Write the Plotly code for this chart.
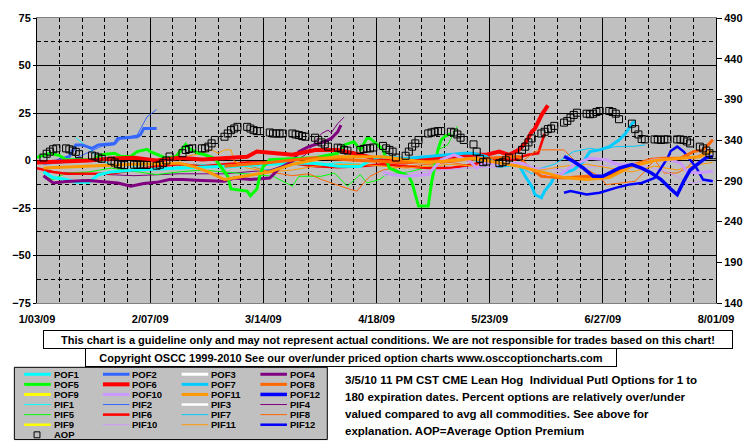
import plotly.graph_objects as go

YEAR = "2009-"

# ---------------- data (left axis: % over/under; right axis: AOP) ----------------
AOP_dates = [
    "01-05", "01-06", "01-07", "01-08", "01-09",
    "01-12", "01-13", "01-14", "01-15", "01-16",
    "01-20", "01-21", "01-22", "01-23",
    "01-26", "01-27", "01-28", "01-29", "01-30",
    "02-02", "02-03", "02-04", "02-05", "02-06",
    "02-09", "02-10", "02-11", "02-12", "02-13",
    "02-17", "02-18", "02-19", "02-20",
    "02-23", "02-24", "02-25", "02-26", "02-27",
    "03-02", "03-03", "03-04", "03-05", "03-06",
    "03-09", "03-10", "03-11", "03-12", "03-13",
    "03-16", "03-17", "03-18", "03-19", "03-20",
    "03-23", "03-24", "03-25", "03-26", "03-27",
    "03-30", "03-31", "04-01", "04-02", "04-03",
    "04-06", "04-07", "04-08", "04-09",
    "04-13", "04-14", "04-15", "04-16", "04-17",
    "04-20", "04-21", "04-22", "04-23", "04-24",
    "04-27", "04-28", "04-29", "04-30", "05-01",
    "05-04", "05-05", "05-06", "05-07", "05-08",
    "05-11", "05-12", "05-13", "05-14", "05-15",
    "05-18", "05-19", "05-20", "05-21", "05-22",
    "05-26", "05-27", "05-28", "05-29",
    "06-01", "06-02", "06-03", "06-04", "06-05",
    "06-08", "06-09", "06-10", "06-11", "06-12",
    "06-15", "06-16", "06-17", "06-18", "06-19",
    "06-22", "06-23", "06-24", "06-25", "06-26",
    "06-29", "06-30", "07-01", "07-02",
    "07-06", "07-07", "07-08", "07-09", "07-10",
    "07-13", "07-14", "07-15", "07-16", "07-17",
    "07-20", "07-21", "07-22", "07-23", "07-24",
    "07-27", "07-28", "07-29", "07-30", "07-31",
]
AOP_values = [
    318.6, 323.3, 325.9, 328.8, 329.9,
    329.9, 328.7, 327.2, 325.6, 322.7,
    321.1, 320.0, 318.6, 317.1,
    314.6, 312.6, 310.5, 309.8, 309.3,
    309.8, 309.8, 309.8, 309.8, 309.5,
    308.6, 309.8, 311.7, 315.0, 319.9,
    323.9, 328.0, 329.2, 329.9,
    329.9, 329.9, 332.0, 336.0, 340.2,
    344.2, 348.2, 352.3, 354.3, 356.3,
    356.3, 354.3, 352.3, 351.1, 351.1,
    349.4, 348.2, 348.2, 348.2, 348.2,
    348.2, 347.0, 346.2, 345.0, 344.2,
    343.0, 340.2, 337.2, 334.8, 332.0,
    330.8, 329.9, 328.0, 327.2,
    328.0, 329.2, 329.9, 329.9, 331.0,
    332.9, 329.9, 328.0, 325.9, 318.6,
    320.8, 325.9, 332.0, 336.0, 340.2,
    348.2, 349.4, 350.3, 351.1, 351.1,
    350.3, 349.4, 347.0, 343.0, 340.2,
    334.8, 325.9, 317.1, 312.9, 313.8,
    311.7, 312.9, 315.2, 318.6,
    319.9, 328.0, 332.0, 337.2, 342.1,
    348.2, 350.3, 353.5, 354.3, 357.5,
    361.5, 363.6, 367.6, 371.0, 373.7,
    372.5, 371.8, 372.5, 374.5, 375.8,
    375.8, 374.5, 372.5, 365.7,
    360.3, 353.5, 347.0, 341.4, 340.9,
    340.9, 340.9, 340.2, 340.9, 340.9,
    340.9, 340.9, 340.2, 338.4, 336.0,
    332.0, 329.9, 327.2, 323.9, 321.5,
]

POF1_d = ["01-05", "01-08", "01-12", "01-15", "01-19", "01-22", "01-26", "02-02", "02-09", "02-16",
          "02-23", "03-02", "03-09", "03-16", "03-23", "03-30", "04-06", "04-13", "04-17"]
POF1_v = [-6, -9, -10, -11.5, -11.5, -7.5, -6, -5, -4.5, -4, -3.5, -3, -2.5, -2, -1.5, -1.5, -3, -3.1, 1.2]
PIF1_d = ["01-15", "01-17", "01-20", "01-22", "01-26", "02-02", "02-09", "02-16", "02-23", "03-02",
          "03-09", "03-16", "03-23", "03-30", "04-06", "04-13"]
PIF1_v = [12, 9, 5, 0.4, -2, -3, -1, -3, -2, -4, -3, -5, -2, -3, -1, -2]

POF2_d = ["01-05", "01-09", "01-13", "01-15", "01-17", "01-20", "01-22", "01-27", "01-28", "02-03",
          "02-04", "02-05", "02-09"]
POF2_v = [-1, -0.2, 2.1, 8.2, 8.2, 6.4, 8.2, 9.0, 11.6, 12.5, 13.7, 16.8, 16.8]
PIF2_d = ["01-05", "01-12", "01-16", "01-20", "01-23", "01-27", "01-29", "02-03", "02-05", "02-06", "02-09"]
PIF2_v = [-2, -1, 2, 5, 7.5, 8.2, 11.6, 13.4, 20.3, 22.9, 26.9]

POF3_d, POF3_v = [], []
PIF3_d, PIF3_v = [], []

POF4_d = ["01-05", "01-08", "01-12", "01-19", "01-28", "02-01", "02-05", "02-09", "02-13", "02-17",
          "02-23", "03-02", "03-05", "03-10", "03-16", "03-19", "03-23", "03-25", "03-28", "03-30",
          "04-02", "04-04", "04-06", "04-07"]
POF4_v = [-8, -11.8, -11, -10.5, -11.8, -13.5, -12.1, -11.5, -10, -10, -10.5, -10.9, -9.2, -10,
          -9.2, -4, -0.5, 4.7, 7.3, 8.2, 9.9, 11.6, 15.1, 18.6]
PIF4_d = ["01-05", "01-19", "02-02", "02-16", "03-02", "03-16", "03-23", "03-27", "04-01", "04-03",
          "04-04", "04-06", "04-08"]
PIF4_v = [-6, -7, -8, -7, -7, -5, -1, 3, 14.2, 16, 14.6, 19.4, 22.9]

POF5_d = ["01-03", "01-07", "01-10", "01-12", "01-20", "01-23", "01-27", "01-29", "02-01", "02-03",
          "02-06", "02-07", "02-12", "02-15", "02-18", "02-19", "02-22", "02-24", "02-27", "03-03",
          "03-04", "03-09", "03-10", "03-12", "03-13", "03-14", "03-16", "03-23", "03-30", "04-06",
          "04-08", "04-11", "04-13", "04-15", "04-16", "04-19", "04-20", "04-22", "04-27", "04-28",
          "04-29", "04-30", "05-01", "05-04", "05-05", "05-06", "05-07", "05-08", "05-09", "05-11"]
POF5_v = [1.7, 3.8, 2.6, 0.4, 0.4, 3.0, 3.8, 2.1, 2.1, 4.7,
          5.9, 4.7, 1.2, 2.1, 8.5, 6.4, 3.8, 3.0, 1.0, -8.3,
          -15, -16.1, -18.6, -15, -7.4, -3.1, 0.4, 1.0, 1.5, 3.8,
          8.2, 9.9, 5.6, 11.6, 11.6, 7.3, 5.6, -4, -7.4, -8.3,
          -11.8, -18.7, -24, -24, -11.8, -3.1, 5.6, 10.8, 12.5, 14.2]
PIF5_d = ["01-05", "01-08", "01-12", "01-19", "01-26", "02-02", "02-09", "02-16", "02-23", "03-02",
          "03-09", "03-17", "03-23", "03-25", "04-01", "04-05", "04-09", "04-13", "04-15", "04-19",
          "04-21", "04-28", "05-05", "05-07", "05-10", "05-13"]
PIF5_v = [-8.3, -10, -6.6, -6, -4, -5.7, -7.4, -6, -5, -6,
          -7, -8.3, -13.5, -8.3, -8.3, -6.6, -13.5, -7.4, -11.8, -10,
          -7.4, -6, -3, 5.6, 8.2, 18]

POF6_d = ["01-03", "01-12", "01-19", "01-26", "02-02", "02-09", "02-16", "02-23", "03-02", "03-09",
          "03-12", "03-16", "03-23", "03-30", "04-06", "04-13", "04-20", "04-27", "05-04", "05-11",
          "05-18", "05-22", "05-26", "05-29", "06-01", "06-03", "06-05", "06-06", "06-08", "06-10"]
POF6_v = [-1, -0.5, 0, 1, 1.5, 0, 1.5, 0.5, 1, 2,
          4.7, 4, 3, 5.5, 5.5, 3, 0, -1, 1, 2,
          3, 3, 4.7, 3, 5.6, 9, 15.1, 16.8, 23.8, 29]
PIF6_d = ["01-03", "01-08", "01-12", "01-19", "01-26", "02-02", "02-09", "02-16", "02-23", "03-02",
          "03-09", "03-16", "03-23", "03-30", "04-06", "04-13", "04-20", "04-27", "05-04", "05-11",
          "05-18", "05-25", "05-31", "06-02", "06-04", "06-07", "06-08", "06-09"]
PIF6_v = [-4, -6, -7, -6.8, -6.8, -5, -3, -2, -3, -2,
          -1, -1, -1.5, -3, -3.5, -3, -2, -3, -4, -4,
          -2, 1, 0.4, 2.1, 3, 3.8, 9, 14.2]

POF7_d = ["04-17", "04-20", "04-27", "05-04", "05-11", "05-15", "05-18", "05-22", "05-26", "06-01",
          "06-03", "06-05", "06-06", "06-08", "06-09", "06-11", "06-12", "06-15", "06-18", "06-21",
          "06-23", "06-26", "06-29", "07-02", "07-04", "07-06", "07-07"]
POF7_v = [1.2, 2, 1, 2, 3.3, 3.8, 3.8, 2, -3, -2.2,
          -8.3, -13.5, -17.9, -19.6, -16.1, -11.8, -8.3, -6.6, -4.8, -0.5,
          4.7, 5.6, 7.3, 10.8, 14.2, 19.4, 20.8]
PIF7_d = ["05-18", "05-25", "06-01", "06-05", "06-08", "06-12", "06-18", "06-23", "06-26", "07-01",
          "07-07", "07-10"]
PIF7_v = [0, -2, -3, -7, -4, -2, 4.7, 6.4, 5.6, 7.3, 7.5, 8.2]

POF8_d = ["03-02", "03-16", "03-30", "04-13", "04-27", "05-11", "05-22", "06-01", "06-03", "06-08",
          "06-15", "06-22", "06-26", "06-29", "07-03", "07-08", "07-12", "07-16", "07-21", "07-25",
          "07-28", "07-30", "07-31"]
POF8_v = [-3, -1, 1.5, 0, -1, 0, 1.2, 2.1, -2, -8.3,
          -9.2, -8.3, -9.2, -8.3, -4, -1.4, 0.7, 1.2, 1.2, 4.7,
          5.6, 9, 11]
PIF8_d = ["03-05", "03-10", "03-16", "03-23", "03-28", "04-01", "04-04", "04-07", "04-10", "04-12",
          "04-14", "04-16", "04-20", "04-27", "05-04", "05-11", "05-18", "05-25", "06-01", "06-06",
          "06-08", "06-15", "06-18", "06-21", "06-26", "06-28", "07-03", "07-07", "07-10", "07-13",
          "07-16", "07-20", "07-23", "07-26", "07-30"]
PIF8_v = [-0.5, -3, -6, -8, -7, -10, -11.8, -13.5, -15.3, -16.1,
          -11.8, -8.3, -5, -3, -2, -1, -3, -1, -2, 4.7,
          5.6, 5.6, 0.4, -4, -8.3, -12.7, -11.8, -10.9, -5.7, 0.4,
          -6.6, -6.6, -4, 2.1, 5.6]

POF9_d, POF9_v = [], []
PIF9_d, PIF9_v = [], []

POF10_d = ["04-20", "04-23", "04-27", "05-04", "05-08", "05-12", "05-17", "05-19", "05-21", "05-27",
           "06-02", "06-10", "06-14", "06-18", "06-23", "06-28", "07-02", "07-08", "07-13", "07-18",
           "07-21", "07-23", "07-26", "07-31"]
POF10_v = [-6, -7.4, -8.3, -7.4, 0.4, 3, -0.5, -4, -1.4, -2,
           -1.4, -7.4, -7.4, -2.2, 1.2, 0.4, -2.2, -2.2, 0.4, 0.4,
           -1.4, -5.7, -6.6, -5.7]
PIF10_d = ["04-20", "05-01", "05-15", "06-01", "06-15", "07-01", "07-10", "07-17", "07-24", "07-31"]
PIF10_v = [-8, -6, -4, -3, -5, -2, -3, -6, -12, -10]

POF11_d = ["01-05", "01-19", "02-02", "02-16", "02-20", "02-25", "03-02", "03-09", "03-16", "03-23",
           "04-01", "04-06", "04-20", "05-04", "05-18", "06-01", "06-08", "06-15", "06-22", "06-29",
           "07-06", "07-13", "07-20", "07-27", "07-31"]
POF11_v = [-4, -3, -2, -1.4, -3, -6, -10, -8, -6, -2,
           1, 2, 2, -1, 1, -3, -6, -9, -10, -9,
           -3, 0, 1, 2, 5]
PIF11_d = ["02-16", "02-19", "02-22", "02-26", "02-28", "03-02", "03-04", "03-05", "03-09", "03-16",
           "03-23", "03-30", "04-06", "04-13", "04-20", "04-27", "05-04", "05-11", "05-18", "05-25",
           "06-01", "06-08", "06-15", "06-22", "06-29", "07-06", "07-13", "07-20", "07-27", "07-31"]
PIF11_v = [0, 2.5, 3.5, 5.6, 3.8, 5.6, 5.6, -0.5, -4, -6,
           -5, -3, -2, -2, -3, -4, -3, -2, -3, -1,
           -3, -5, -3, -2, -4, -6, -3, -5, -2, -1]

POF12_d = ["06-15", "06-18", "06-21", "06-24", "06-27", "06-29", "07-02", "07-06", "07-09", "07-12",
           "07-15", "07-18", "07-20", "07-22", "07-24", "07-27", "07-29", "07-31"]
POF12_v = [2.1, -0.5, -4, -8.3, -8.3, -6.6, -4, -2.2, -4, -6.6,
           -10, -15, -18, -11, -5, -1, 1.5, 2]
PIF12_d = ["06-15", "06-17", "06-22", "06-26", "07-01", "07-05", "07-09", "07-13", "07-15", "07-17",
           "07-18", "07-20", "07-22", "07-24", "07-26", "07-28", "07-31"]
PIF12_v = [-17, -16.1, -17.9, -17, -14.4, -12.7, -11.8, -9.2, -4, 1.2,
           5, 7.3, 4.7, 0.4, -4, -10, -10.9]

X_RANGE = ["2009-01-03", "2009-08-01"]
Y_RANGE = [-75, 75]
Y2_RANGE = [140, 490]

DISCLAIMER = "This chart is a guideline only and may not represent actual conditions. We are not responsible for trades based on this chart!"
COPYRIGHT = "Copyright OSCC 1999-2010 See our over/under priced option charts www.osccoptioncharts.com"
NOTE_LINES = [
    "3/5/10 11 PM CST CME Lean Hog  Individual Putl Options for 1 to",
    "180 expiration dates. Percent options are relatively over/under",
    "valued compared to avg all commodities. See above for",
    "explanation. AOP=Average Option Premium",
]

# ---------------- styles ----------------
COLORS = ["#00FFFF", "#3366FF", "#FFFFFF", "#800080", "#00FF00", "#FF0000",
          "#00CCFF", "#FF6600", "#FFFF00", "#CC99FF", "#FF9900", "#0000FF"]
FONT = "Liberation Sans, Arial, sans-serif"

W, H = 755, 446
ML, MR, MT, MB = 31, 34, 15, 143
PW, PH = W - ML - MR, H - MT - MB


def fx(px):
    return (px - ML) / PW


def fy(py):
    return (H - MB - py) / PH


g = globals()
series = []
for kind in ("POF", "PIF"):
    for i in range(1, 13):
        name = f"{kind}{i}"
        d = [YEAR + s for s in g[name + "_d"]]
        v = g[name + "_v"]
        if kind == "POF":
            w = 4 if i == 6 else (3.5 if i == 12 else 3)
        else:
            w = 2.5 if i in (3, 6, 9, 12) else 1
        series.append((name, d, v, COLORS[i - 1], w))

fig = go.Figure()
# thin PIF lines first, then thick POF lines, then AOP markers
for name, d, v, c, w in series[12:] + series[:12]:
    fig.add_trace(go.Scatter(x=d, y=v, mode="lines", name=name,
                             line=dict(color=c, width=w), showlegend=False))

fig.add_trace(go.Scatter(x=[YEAR + s for s in AOP_dates], y=AOP_values, yaxis="y2",
                         mode="markers", name="AOP", showlegend=False,
                         marker=dict(symbol="square-open", size=7, color="black",
                                     line=dict(width=1, color="black"))))

tickfont = dict(family=FONT, size=11, color="black", weight="bold")
DAY = 86400000

fig.update_layout(
    width=W, height=H,
    margin=dict(l=ML, r=MR, t=MT, b=MB),
    paper_bgcolor="white", plot_bgcolor="#C0C0C0",
    xaxis=dict(type="date", range=X_RANGE, tick0=X_RANGE[0], dtick=35 * DAY,
               tickformat="%-m/%d/%y", showgrid=True, gridcolor="black", gridwidth=1,
               minor=dict(tick0=X_RANGE[0], dtick=7 * DAY, showgrid=True, gridcolor="black",
                          griddash="4px,3px", gridwidth=1),
               showline=True, linecolor="#808080", mirror=True, zeroline=False,
               ticks="outside", ticklen=6, tickcolor="rgba(0,0,0,0)", tickfont=tickfont),
    yaxis=dict(range=Y_RANGE, tick0=0, dtick=25, showgrid=True, gridcolor="black", gridwidth=1,
               minor=dict(tick0=0, dtick=12.5, showgrid=True, gridcolor="black",
                          griddash="4px,3px", gridwidth=1),
               zeroline=False, showline=True, linecolor="black",
               ticks="outside", ticklen=3, tickcolor="black", tickfont=tickfont),
    yaxis2=dict(overlaying="y", side="right", range=Y2_RANGE, tick0=140, dtick=50,
                showgrid=False, zeroline=False, showline=True, linecolor="black",
                ticks="outside", ticklen=5, tickcolor="black", tickfont=tickfont),
)

shapes = []
annotations = []

# text boxes below the plot
annotations.append(dict(xref="paper", yref="paper", x=fx(387.5), y=fy(340), text=DISCLAIMER,
                        showarrow=False, xanchor="center", yanchor="middle",
                        width=686, height=15, borderpad=1, bordercolor="black", borderwidth=1,
                        bgcolor="white", font=dict(family=FONT, size=11, color="black", weight="bold")))
annotations.append(dict(xref="paper", yref="paper", x=fx(350.5), y=fy(358), text=COPYRIGHT,
                        showarrow=False, xanchor="center", yanchor="middle",
                        width=528, height=15, borderpad=1, bordercolor="black", borderwidth=1,
                        bgcolor="white", font=dict(family=FONT, size=11, color="black", weight="bold")))

# note text
for k, line in enumerate(NOTE_LINES):
    annotations.append(dict(xref="paper", yref="paper", x=fx(342), y=fy(381 + 17 * k), text=line,
                            showarrow=False, xanchor="left", yanchor="middle",
                            font=dict(family=FONT, size=11.5, color="black", weight="bold")))

# manual legend (4 columns x 7 rows, as in the reference)
shapes.append(dict(type="rect", xref="paper", yref="paper", x0=fx(8), x1=fx(326), y0=fy(368), y1=fy(441),
                   fillcolor="#C0C0C0", line=dict(color="black", width=1), layer="above"))
LEG_FONT = dict(family=FONT, size=9.5, color="black", weight="bold")
ROW0, ROWSTEP = 375, 10.2
for idx, (name, d, v, c, w) in enumerate(series):
    r, col = divmod(idx, 4)
    yy = fy(ROW0 + ROWSTEP * r)
    x0 = 18 + 80 * col
    shapes.append(dict(type="line", xref="paper", yref="paper", x0=fx(x0), x1=fx(x0 + 27), y0=yy, y1=yy,
                       line=dict(color=c, width=w), layer="above"))
    annotations.append(dict(xref="paper", yref="paper", x=fx(x0 + 29), y=yy, text=name, showarrow=False,
                            xanchor="left", yanchor="middle", height=9, borderpad=0, font=LEG_FONT))
yy = fy(ROW0 + ROWSTEP * 6)
shapes.append(dict(type="rect", xref="paper", yref="paper", x0=fx(28), x1=fx(34), y0=yy - 3 / PH, y1=yy + 3 / PH,
                   line=dict(color="black", width=1), layer="above"))
annotations.append(dict(xref="paper", yref="paper", x=fx(47), y=yy, text="AOP", showarrow=False,
                        xanchor="left", yanchor="middle", height=9, borderpad=0, font=LEG_FONT))

fig.update_layout(shapes=shapes, annotations=annotations)
fig.write_html("out.html")
